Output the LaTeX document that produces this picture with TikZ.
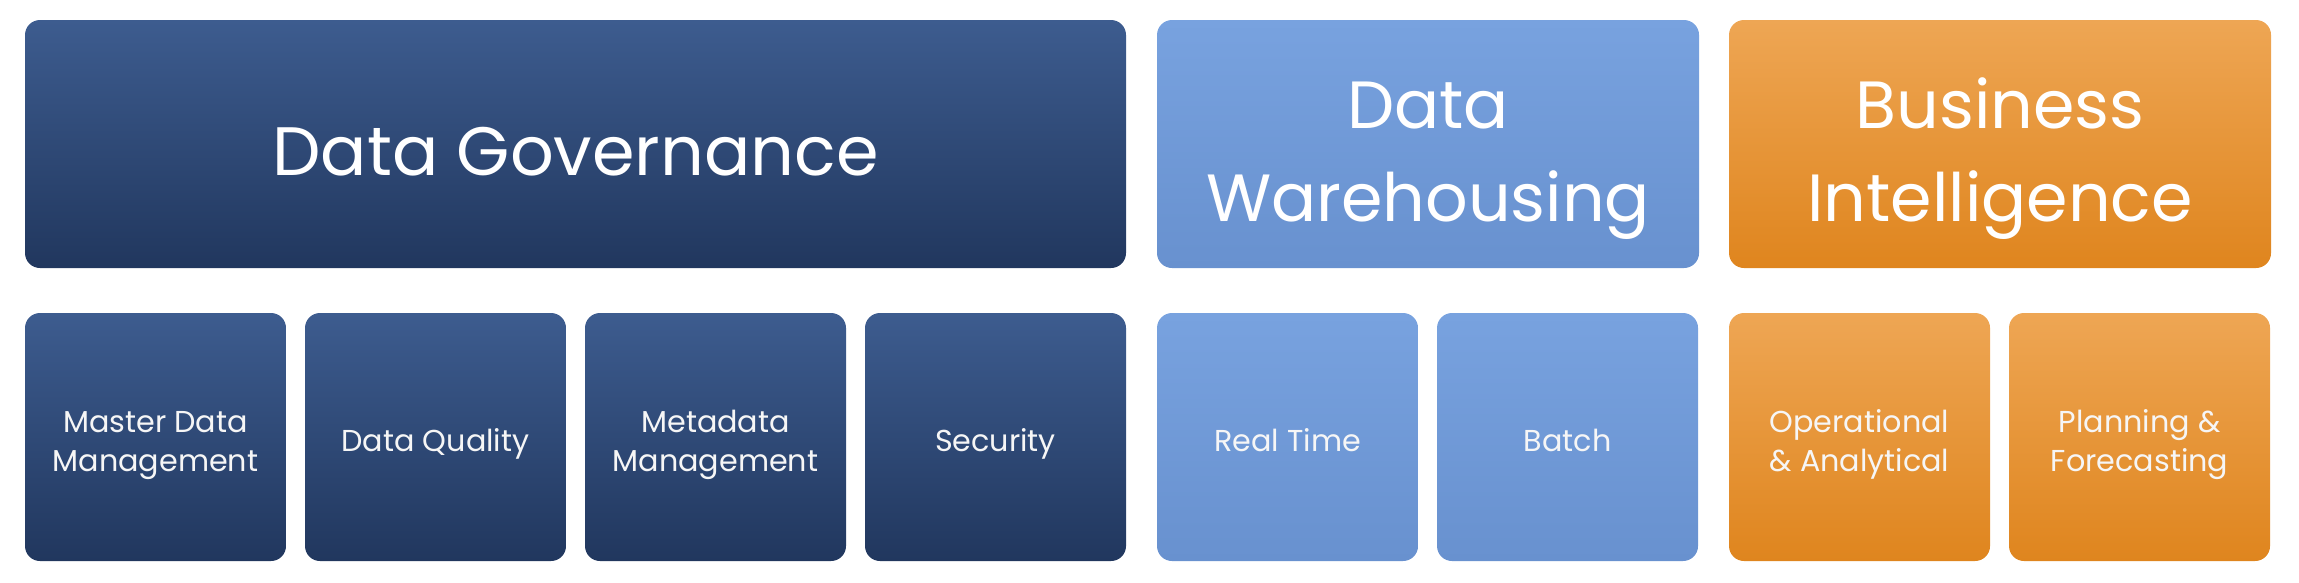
\documentclass[tikz,border=0pt]{standalone}
\usepackage{fontspec}
\setmainfont{Poppins}
\usepackage{tikz}
\usetikzlibrary{positioning}
\definecolor{navytop}{HTML}{3D5C8F}
\definecolor{navybot}{HTML}{21375E}
\definecolor{skytop}{HTML}{78A2DF}
\definecolor{skybot}{HTML}{6891CF}
\definecolor{ambertop}{HTML}{EEA654}
\definecolor{amberbot}{HTML}{DF851E}
\newcommand{\bigup}{\rule{0pt}{25.6pt}}
\newcommand{\smallup}{\rule{0pt}{11.7pt}}
\tikzset{
  topbox/.style={rectangle, rounded corners=0.15cm, minimum height=2.48cm, outer sep=0pt,
                 text=white, align=center, font=\fontsize{19}{26.5}\selectfont,
                 execute at end node=\strut},
  subbox/.style={rectangle, rounded corners=0.15cm, minimum width=2.61cm, minimum height=2.48cm,
                 outer sep=0pt, text=white!93!gray, align=center, font=\fontsize{8.6}{11}\selectfont,
                 execute at end node=\strut},
  navy/.style={top color=navytop, bottom color=navybot},
  sky/.style={top color=skytop, bottom color=skybot},
  amber/.style={top color=ambertop, bottom color=amberbot},
}

\begin{document}
\begin{tikzpicture}
  \useasboundingbox (0,0) rectangle (22.99,5.82);

  % lower row
  \node[subbox, navy, anchor=south west] (mdm) at (0.25,0.21) {\smallup Master Data\\Management};
  \node[subbox, navy] (dq) [right=0.19cm of mdm] {\smallup Data Quality};
  \node[subbox, navy] (meta) [right=0.19cm of dq] {\smallup Metadata\\Management};
  \node[subbox, navy] (sec) [right=0.19cm of meta] {\smallup Security};
  \node[subbox, sky] (rt) [right=0.31cm of sec] {\smallup Real Time};
  \node[subbox, sky] (batch) [right=0.19cm of rt] {\smallup Batch};
  \node[subbox, amber] (oper) [right=0.31cm of batch] {\smallup Operational\\\& Analytical};
  \node[subbox, amber] (plan) [right=0.19cm of oper] {\smallup Planning \&\\Forecasting};

  % upper row
  \node[topbox, navy, minimum width=11.01cm, font=\fontsize{19.5}{26}\selectfont] (dg) [above=0.45cm of mdm.north west, anchor=south west] {\bigup Data Governance};
  \node[topbox, sky, minimum width=5.42cm] (dw) [above=0.45cm of rt.north west, anchor=south west] {\bigup Data\\Warehousing};
  \node[topbox, amber, minimum width=5.42cm] (bi) [above=0.45cm of oper.north west, anchor=south west] {\bigup Business\\Intelligence};
\end{tikzpicture}
\end{document}
